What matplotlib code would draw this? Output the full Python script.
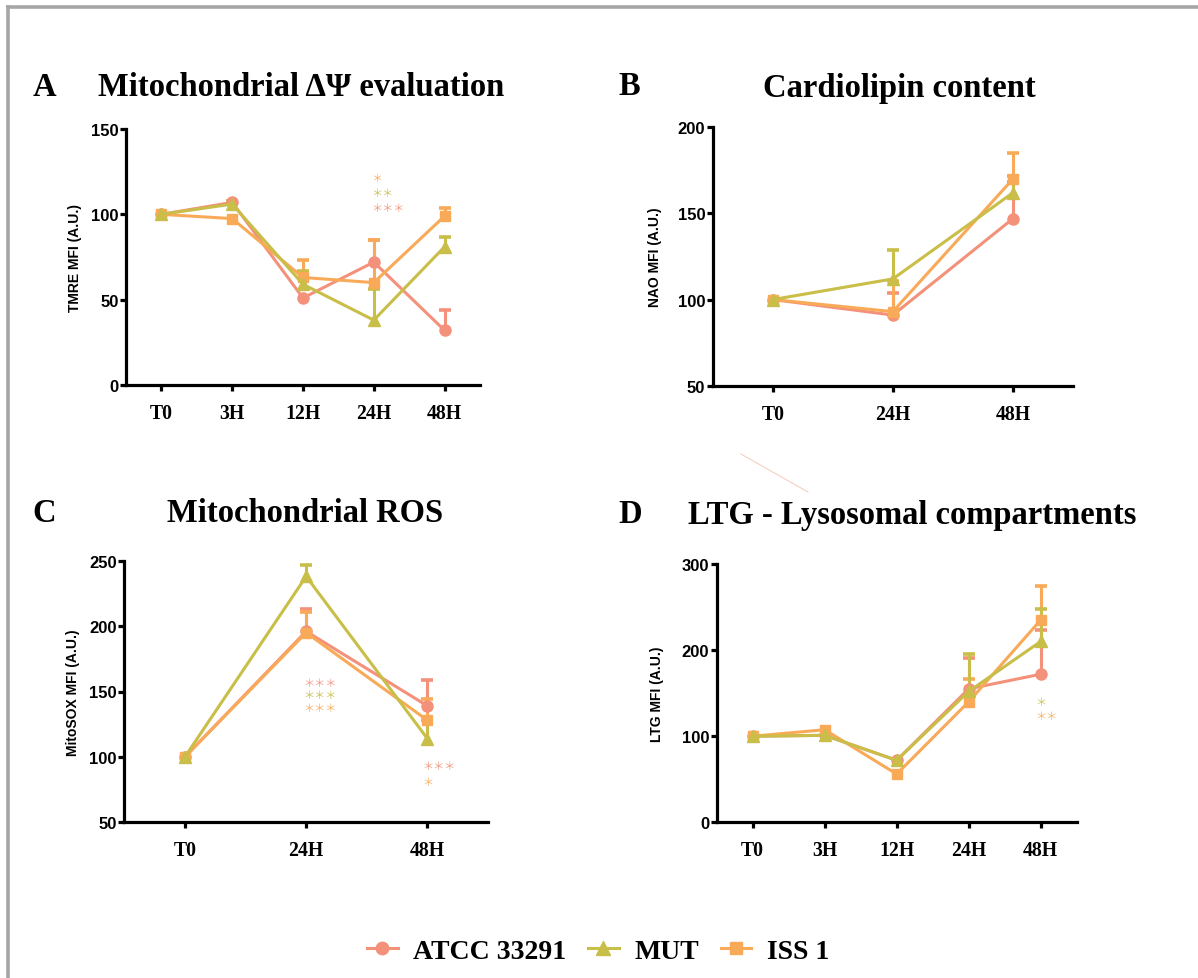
import matplotlib
matplotlib.use("Agg")
import matplotlib.pyplot as plt
from matplotlib.lines import Line2D

# ---------------- data ----------------
strains = ["ATCC 33291", "MUT", "ISS 1"]
colors = {"ATCC 33291": "#F4917B", "MUT": "#C8BE48", "ISS 1": "#F9AA58"}
markers = {"ATCC 33291": "o", "MUT": "^", "ISS 1": "s"}
msizes = {"ATCC 33291": 8.0, "MUT": 8.5, "ISS 1": 7.5}

times5 = ["T0", "3H", "12H", "24H", "48H"]
times3 = ["T0", "24H", "48H"]

# A - TMRE (mitochondrial membrane potential)
tmre_atcc = [100, 107, 51, 72, 32]
tmre_atcc_err = [0, 1, 0, 13, 12]
tmre_mut = [100, 106, 59, 38, 81]
tmre_mut_err = [0, 2, 8, 18, 6]
tmre_iss = [100, 97.5, 63, 60, 99]
tmre_iss_err = [0, 0, 10, 25, 5]

# B - NAO (cardiolipin)
nao_atcc = [100, 91, 147]
nao_atcc_err = [0, 13, 21]
nao_mut = [100, 112, 162]
nao_mut_err = [0, 17, 10]
nao_iss = [100, 93, 170]
nao_iss_err = [0, 18, 15]

# C - MitoSOX (mitochondrial ROS)
mitosox_atcc = [100, 196, 139]
mitosox_atcc_err = [0, 17, 20]
mitosox_mut = [100, 238, 114]
mitosox_mut_err = [0, 9, 14]
mitosox_iss = [100, 195, 128]
mitosox_iss_err = [0, 16, 16]

# D - LysoTracker Green
ltg_atcc = [100, 101, 72, 155, 172]
ltg_atcc_err = [0, 0, 0, 36, 51]
ltg_mut = [100, 101, 72, 152, 210]
ltg_mut_err = [0, 0, 0, 43, 38]
ltg_iss = [100, 107.5, 56, 140, 235]
ltg_iss_err = [0, 0, 0, 27, 39]

# significance marks: (category index, y, text, strain)
stars_A = [(3, 121, "＊", "ISS 1"), (3, 112.5, "＊＊", "MUT"), (3, 104, "＊＊＊", "ATCC 33291")]
stars_C = [(1, 156.5, "＊＊＊", "ATCC 33291"), (1, 147.3, "＊＊＊", "MUT"),
           (1, 137.6, "＊＊＊", "ISS 1"), (2, 92.8, "＊＊＊", "ATCC 33291"), (2, 80.8, "＊", "ISS 1")]
stars_D = [(4, 139.4, "＊", "MUT"), (4, 123, "＊＊", "ISS 1")]

# ---------------- figure ----------------
W, H = 1198, 979
fig = plt.figure(figsize=(W / 100, H / 100), dpi=100)

SERIF = "Liberation Serif"
SANS = "Liberation Sans"
LW = 2.2


def px_axes(left, top, right, bottom):
    return fig.add_axes([left / W, 1 - bottom / H, (right - left) / W, (bottom - top) / H])


def panel(box, cats, series, ylim, yticks, ylabel, label_cx, stars, star_dx):
    ax = px_axes(*box)
    x = list(range(len(cats)))
    for name, vals, errs in series:
        c = colors[name]
        # one-sided (upper) error bars
        for xi, v, e in zip(x, vals, errs):
            if e > 0:
                ax.plot([xi, xi], [v, v + e], color=c, lw=LW, zorder=2,
                        solid_capstyle="butt")
                ax.plot([xi], [v + e], marker="_", color=c, ms=9, mew=2.6, zorder=2)
        ax.plot(x, vals, color=c, lw=LW, marker=markers[name], ms=msizes[name],
                mec=c, mfc=c, zorder=3, label=name)
    ax.set_xlim(-0.5, len(cats) - 0.5)
    ax.set_ylim(*ylim)
    ax.set_yticks(yticks)
    ax.set_xticks(x)
    ax.set_xticklabels(cats)
    for s in ("top", "right"):
        ax.spines[s].set_visible(False)
    for s in ("left", "bottom"):
        ax.spines[s].set_linewidth(2.3)
        ax.spines[s].set_color("black")
    ax.tick_params(axis="both", direction="out", length=4.5, width=2.3, color="black")
    ax.tick_params(axis="y", pad=0.8)
    ax.tick_params(axis="x", pad=8.5)
    for t in ax.get_yticklabels():
        t.set_fontfamily(SANS)
        t.set_fontweight("bold")
        t.set_fontsize(12)
    for t in ax.get_xticklabels():
        t.set_fontfamily(SERIF)
        t.set_fontweight("bold")
        t.set_fontsize(14.2)
    cy = (box[1] + box[3]) / 2
    fig.text(label_cx / W, 1 - cy / H, ylabel, rotation=90, ha="center", va="center",
             fontfamily=SANS, fontweight="bold", fontsize=10)
    for xi, yv, txt, name in stars:
        ax.text(xi + star_dx[xi], yv, txt, ha="left", va="center",
                color=colors[name], fontfamily="Noto Sans CJK JP", fontsize=8,
                alpha=0.9)
    return ax


axA = panel((126, 130, 480, 386), times5,
            [("ATCC 33291", tmre_atcc, tmre_atcc_err),
             ("ISS 1", tmre_iss, tmre_iss_err),
             ("MUT", tmre_mut, tmre_mut_err)],
            (0, 150), [0, 50, 100, 150], "TMRE MFI (A.U.)", 75, stars_A,
            {3: -0.04})

axB = panel((712.7, 128.3, 1073, 386.7), times3,
            [("ATCC 33291", nao_atcc, nao_atcc_err),
             ("ISS 1", nao_iss, nao_iss_err),
             ("MUT", nao_mut, nao_mut_err)],
            (50, 200), [50, 100, 150, 200], "NAO MFI (A.U.)", 655, [], {})

axC = panel((124.3, 561.7, 488, 823.3), times3,
            [("ATCC 33291", mitosox_atcc, mitosox_atcc_err),
             ("ISS 1", mitosox_iss, mitosox_iss_err),
             ("MUT", mitosox_mut, mitosox_mut_err)],
            (50, 250), [50, 100, 150, 200, 250], "MitoSOX MFI (A.U.)", 72.7, stars_C,
            {1: -0.02, 2: -0.045})

axD = panel((716.7, 565, 1076.7, 823.3), times5,
            [("ATCC 33291", ltg_atcc, ltg_atcc_err),
             ("ISS 1", ltg_iss, ltg_iss_err),
             ("MUT", ltg_mut, ltg_mut_err)],
            (0, 300), [0, 100, 200, 300], "LTG MFI (A.U.)", 656.7, stars_D,
            {4: -0.075})

# panel letters and titles
title_kw = dict(fontfamily=SERIF, fontweight="bold", fontsize=23.5, ha="left", va="baseline")
for (lx, ly), (tx, ty), letter, title in [
    ((33, 96), (98, 96), "A", "Mitochondrial ΔΨ evaluation"),
    ((618, 95), (763, 97), "B", "Cardiolipin content"),
    ((32, 522), (167, 522), "C", "Mitochondrial ROS"),
    ((618, 523), (688, 524), "D", "LTG - Lysosomal compartments"),
]:
    fig.text(lx / W, 1 - ly / H, letter, **title_kw)
    fig.text(tx / W, 1 - ty / H, title, **title_kw)

# shared legend
handles = [Line2D([], [], color=colors[n], lw=LW, marker=markers[n], ms=msizes[n] + 1,
                  mec=colors[n], mfc=colors[n]) for n in strains]
fig.legend(handles, strains, loc="center", bbox_to_anchor=(598 / W, 1 - 952 / H),
           ncol=3, frameon=False, handlelength=1.1, handletextpad=0.55,
           columnspacing=0.8, prop=dict(family=SERIF, weight="bold", size=20))

# frame lines along the top and left edges
fig.add_artist(Line2D([8 / W, 1.0], [1 - 8 / H, 1 - 8 / H], color="#A6A6A6", lw=2.6))
fig.add_artist(Line2D([8 / W, 8 / W], [0, 1 - 8 / H], color="#A6A6A6", lw=2.6))
# faint pen stroke between the panels
fig.add_artist(Line2D([741 / W, 808 / W], [1 - 455 / H, 1 - 493 / H],
                      color="#F4B0A0", lw=0.6, alpha=0.8))

fig.savefig("out.png", dpi=100)
